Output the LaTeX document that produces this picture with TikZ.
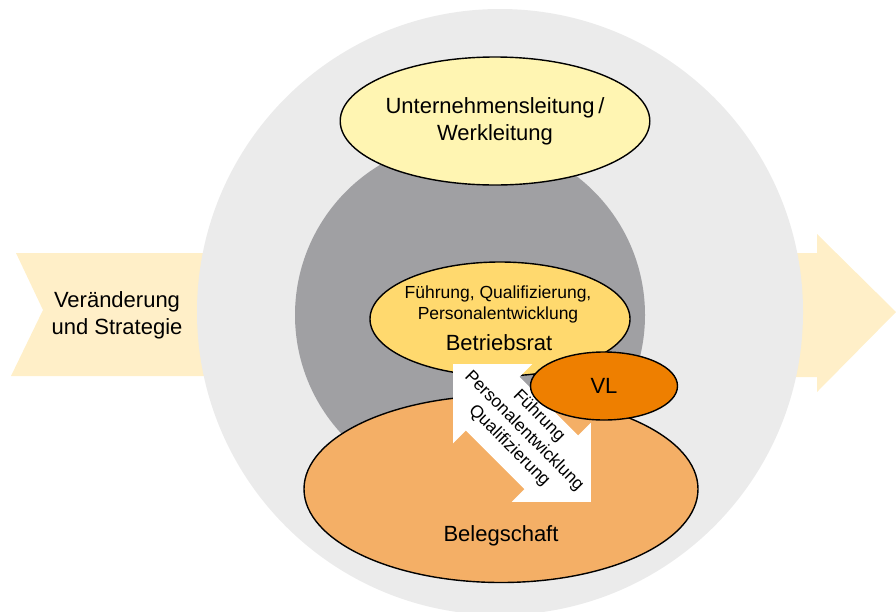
\documentclass[tikz,border=0pt]{standalone}
\usepackage{fontspec}
\setmainfont{Liberation Sans}
\usetikzlibrary{shapes.geometric}

\definecolor{lgray}{RGB}{235,235,235}
\definecolor{dgray}{RGB}{160,160,163}
\definecolor{cream}{RGB}{255,239,200}
\definecolor{ulyellow}{RGB}{255,245,178}
\definecolor{bryellow}{RGB}{255,217,110}
\definecolor{blorange}{RGB}{244,175,102}
\definecolor{vlorange}{RGB}{238,127,0}

\begin{document}
\begin{tikzpicture}[x=1pt,y=-1pt,
  oval/.style={ellipse,draw=black,line width=1.4pt,inner sep=0pt},
  bigtxt/.style={font=\fontsize{22}{27}\selectfont,align=center},
  smalltxt/.style={font=\fontsize{17.5}{21}\selectfont,align=center}]

\useasboundingbox (0,0) rectangle (896,611);

\fill[cream] (16,253) -- (230,253) -- (230,376) -- (11,376) -- (43,310) -- cycle;
\fill[cream] (770,253) -- (817,253) -- (817,234) -- (896,312) -- (817,392) -- (817,377) -- (770,377) -- cycle;

\fill[lgray] (500,312) circle (303);
\fill[dgray] (470,315) circle (175);

\node[bigtxt] (chg) at (117,315) {Veränderung\\und Strategie};

\node[oval,fill=ulyellow,minimum width=253,minimum height=128,bigtxt] (ul) at (495,121) {Unternehmensleitung\,/\\Werkleitung};
\node[oval,fill=bryellow,minimum width=260,minimum height=114] (br) at (500,319) {};
\node[smalltxt] (brtask) at (498,304) {Führung, Qualifizierung,\\Personalentwicklung};
\node[bigtxt] (brname) at (499,343) {Betriebsrat};

\node[oval,fill=blorange,minimum width=394,minimum height=187] (bl) at (501,489) {};
\node[bigtxt] (blname) at (501,536) {Belegschaft};

\begin{scope}[shift={(522,433)},rotate=-45]
\fill[white] (-97.5,0) -- (-41.5,56) -- (-41.5,38) -- (41.5,38) -- (41.5,56) -- (97.5,0)
  -- (41.5,-56) -- (41.5,-38) -- (-41.5,-38) -- (-41.5,-56) -- cycle;
\end{scope}
\node[smalltxt,rotate=-45] (dev) at (524,431) {Führung\\Personalentwicklung\\Qualifizierung};

\node[oval,fill=vlorange,minimum width=147,minimum height=68,bigtxt] (vl) at (604,386) {VL};

\end{tikzpicture}
\end{document}
